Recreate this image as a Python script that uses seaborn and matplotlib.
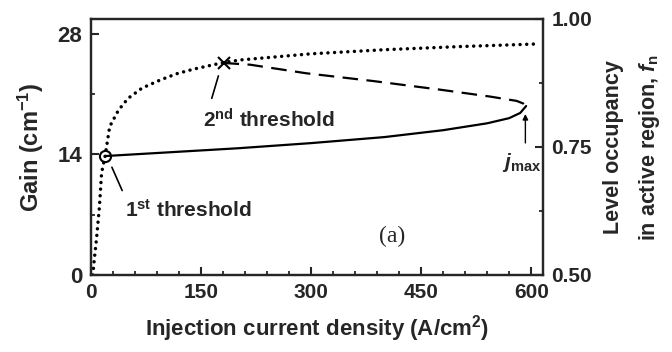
import matplotlib
matplotlib.use("Agg")
import matplotlib.pyplot as plt
import seaborn as sns
import pandas as pd
from matplotlib.ticker import MultipleLocator

# ---- data ----
occ_j = [3, 5, 8, 12, 15, 19.6, 26, 38, 51, 70, 95, 117, 140, 181, 204, 300, 400, 500, 603]
occ_f = [0.50, 0.53, 0.57, 0.633, 0.70, 0.731, 0.79, 0.822, 0.845, 0.865, 0.881,
         0.893, 0.902, 0.915, 0.920, 0.932, 0.940, 0.946, 0.951]

upper_j = [181, 217, 294, 385, 476, 544, 580, 589, 593]
upper_g = [24.6, 24.4, 23.4, 22.5, 21.5, 20.7, 20.2, 19.9, 19.6]

lower_j = [19.6, 100, 200, 300, 400, 480, 540, 570, 585, 593]
lower_g = [13.8, 14.2, 14.7, 15.3, 16.0, 16.8, 17.6, 18.2, 18.8, 19.6]

th1 = (19.6, 13.8)
th2 = (181, 24.6)

x_ticks = [0, 150, 300, 450, 600]
gain_ticks = [0, 14, 28]
occ_ticks = [0.50, 0.75, 1.00]

sns.set_theme(style="ticks")
plt.rcParams["font.family"] = ["Liberation Sans", "DejaVu Sans"]
plt.rcParams["font.weight"] = "bold"
plt.rcParams["mathtext.fontset"] = "custom"
plt.rcParams["mathtext.rm"] = "Liberation Sans:bold"
plt.rcParams["mathtext.bf"] = "Liberation Sans:bold"
plt.rcParams["mathtext.it"] = "Liberation Sans:italic:bold"

fig = plt.figure(figsize=(6.72, 3.52), dpi=100)
ax = fig.add_axes([90.6 / 672, 1 - 275 / 352, (543 - 90.6) / 672, (275 - 19) / 352])
ax2 = ax.twinx()

df_up = pd.DataFrame({"j": upper_j, "g": upper_g})
df_lo = pd.DataFrame({"j": lower_j, "g": lower_g})
df_occ = pd.DataFrame({"j": occ_j, "f": occ_f})

sns.lineplot(data=df_lo, x="j", y="g", ax=ax, color="black", lw=1.6, sort=False)
sns.lineplot(data=df_up, x="j", y="g", ax=ax, color="black", lw=1.6, sort=False,
             linestyle=(0, (7, 3.8)))
sns.lineplot(data=df_occ, x="j", y="f", ax=ax2, color="black", lw=2.5, sort=False,
             linestyle=(0, (0.01, 1.9)), dash_capstyle="round")

ax.plot([th1[0]], [th1[1]], marker="o", ms=8, mfc="none", mec="black", mew=1.5)
ax.plot([th2[0]], [th2[1]], marker="x", ms=8.5, color="black", mew=1.5)

ax.set_xlim(0, 616)
ax.set_ylim(0, 29.7)
ax2.set_ylim(0.5, 1.0)

ax.set_xticks(x_ticks)
ax.set_yticks(gain_ticks)
ax2.set_yticks(occ_ticks)
ax2.set_yticklabels([f"{v:.2f}" for v in occ_ticks])
ax.xaxis.set_minor_locator(MultipleLocator(30))
ax.yaxis.set_minor_locator(MultipleLocator(7))
ax2.yaxis.set_minor_locator(MultipleLocator(0.125))

for a in (ax, ax2):
    a.tick_params(which="major", direction="in", length=6, width=1.5, labelsize=15, pad=6)
    a.tick_params(which="minor", direction="in", length=3, width=1.3)
    for s in a.spines.values():
        s.set_linewidth(1.6)
ax.tick_params(axis="y", right=False, labelsize=16)
ax.tick_params(axis="x", top=False)

ax.set_xlabel("Injection current density (A/cm$^{2}$)", fontsize=16, fontweight="bold", labelpad=8)
ax.set_ylabel("Gain (cm$^{-1}$)", fontsize=17, fontweight="bold", labelpad=8)
ax2.set_ylabel("Level occupancy\nin active region, $f_\\mathrm{n}$", fontsize=15.5,
               fontweight="bold", labelpad=8, linespacing=1.7)

ax.text(47, 7.6, "1$^{\\mathrm{st}}$ threshold", fontsize=15, fontweight="bold", va="center", ha="left")
ax.plot([29, 43], [12.5, 9.8], color="black", lw=1.2)
ax.text(153, 18.0, "2$^{\\mathrm{nd}}$ threshold", fontsize=15, fontweight="bold", va="center", ha="left")
ax.plot([174, 165], [23.1, 20.5], color="black", lw=1.2)
ax.annotate("", xy=(592, 19.0), xytext=(592, 15.0),
            arrowprops=dict(arrowstyle="-|>", color="black", lw=1.0, mutation_scale=8))
ax.text(587, 13.0, "$j_\\mathrm{max}$", fontsize=15, ha="center", va="center")
ax.text(411, 4.5, "(a)", fontsize=17, fontweight="normal", family="Liberation Serif",
        ha="center", va="center")

fig.savefig("out.png", dpi=100)
